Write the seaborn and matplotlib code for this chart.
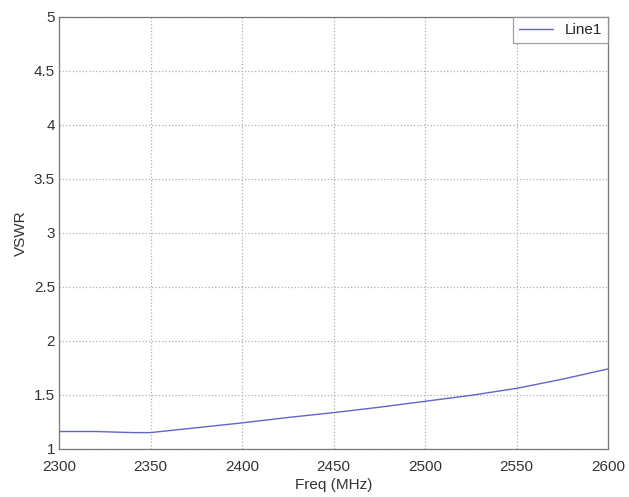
import matplotlib
matplotlib.use("Agg")
import matplotlib.pyplot as plt
import seaborn as sns
import pandas as pd

freq = [2300, 2320, 2330, 2340, 2350, 2375, 2400, 2425, 2450, 2475, 2500, 2525, 2550, 2575, 2600]
vswr = [1.16, 1.16, 1.155, 1.15, 1.15, 1.195, 1.24, 1.29, 1.335, 1.385, 1.44, 1.495, 1.56, 1.645, 1.74]
xticks = [2300, 2350, 2400, 2450, 2500, 2550, 2600]
yticks = [1, 1.5, 2, 2.5, 3, 3.5, 4, 4.5, 5]
ytick_labels = ["1", "1.5", "2", "2.5", "3", "3.5", "4", "4.5", "5"]

sns.set_theme(style="white")
plt.rcParams['font.family'] = ['Liberation Sans', 'DejaVu Sans']

df = pd.DataFrame({"Freq": freq, "VSWR": vswr})
fig = plt.figure(figsize=(6.29, 4.97), dpi=100)
ax = fig.add_axes([0.094, 0.097, 0.873, 0.869])
sns.lineplot(data=df, x="Freq", y="VSWR", ax=ax, color="#6464c8", linewidth=1.0, label="Line1")
ax.set_xlim(2300, 2600)
ax.set_ylim(1, 5)
ax.set_xticks(xticks)
ax.set_xticklabels([str(t) for t in xticks])
ax.set_yticks(yticks)
ax.set_yticklabels(ytick_labels)
ax.grid(True, linestyle=":", color="#b0b0b0", linewidth=0.9)
for s in ax.spines.values():
    s.set_color("#777777")
    s.set_linewidth(0.9)
ax.tick_params(axis="both", labelsize=11, colors="#333333", direction="in", length=4)
ax.tick_params(axis="x", pad=8)
ax.tick_params(axis="y", pad=3)
ax.set_xlabel("Freq (MHz)", fontsize=11, color="#333333", labelpad=3)
ax.set_ylabel("VSWR", fontsize=11, color="#333333", labelpad=4)
leg = ax.legend(loc="upper right", fontsize=11, frameon=True, fancybox=False, handlelength=2.2, borderaxespad=0.0)
leg.get_frame().set_edgecolor("#888888")
leg.get_frame().set_linewidth(0.9)
fig.savefig("out.png", dpi=100)
